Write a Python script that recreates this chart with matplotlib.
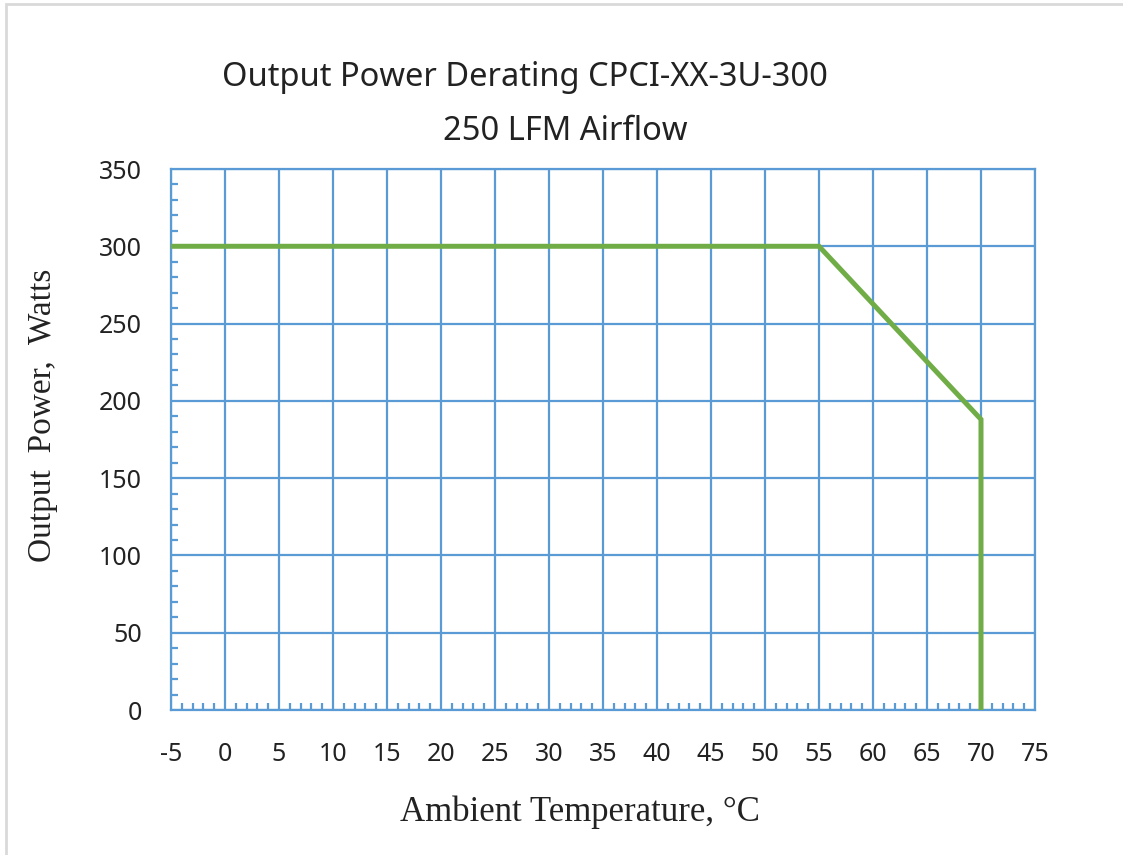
import matplotlib
matplotlib.use('Agg')
import matplotlib.pyplot as plt
from matplotlib.ticker import MultipleLocator
from matplotlib.patches import Rectangle

# derating curve, 250 LFM airflow
temp_c = [-5, 55, 70, 70]
power_w = [300, 300, 188, 0]
x_ticks = list(range(-5, 80, 5))
y_ticks = list(range(0, 400, 50))

BLUE = '#5B9BD5'
GREEN = '#70AD47'
INK = '#222222'

fig = plt.figure(figsize=(11.23, 8.55), dpi=100)
ax = fig.add_axes([171/1123, 1-710/855, (1035-171)/1123, (710-169)/855])

ax.plot(temp_c, power_w, color=GREEN, lw=3.6, solid_capstyle='butt', solid_joinstyle='miter', zorder=3)

ax.set_xlim(-5, 75); ax.set_ylim(0, 350)
ax.set_xticks(x_ticks); ax.set_yticks(y_ticks)
ax.set_xticklabels([str(v) for v in x_ticks])  # plain hyphen for -5
ax.xaxis.set_minor_locator(MultipleLocator(1))
ax.yaxis.set_minor_locator(MultipleLocator(10))
ax.grid(True, which='major', color=BLUE, lw=1.6)
for s in ax.spines.values():
    s.set_color(BLUE); s.set_linewidth(1.6)
ax.tick_params(which='major', length=0, labelsize=18, colors=INK)
ax.tick_params(axis='x', which='major', pad=23)
ax.tick_params(axis='y', which='major', pad=21)
ax.tick_params(which='minor', direction='in', length=5, width=1.6, color=BLUE)
ax.tick_params(axis='x', which='minor', top=False)
ax.tick_params(axis='y', which='minor', right=False)
for lab in ax.get_xticklabels() + ax.get_yticklabels():
    lab.set_fontfamily('Noto Sans')

fig.text(580/1123, 1-812/855, 'Ambient Temperature, °C', family='Liberation Serif', fontsize=25,
         ha='center', va='center', color=INK)
fig.text(43/1123, 1-415/855, 'Output  Power,  Watts', family='Liberation Serif', fontsize=24,
         ha='center', va='center', rotation=90, color=INK)

fig.text(525/1123, 1-77/855, 'Output Power Derating CPCI-XX-3U-300', family='Noto Sans', fontsize=23.5,
         ha='center', va='center', color=INK)
fig.text(565/1123, 1-131/855, '250 LFM Airflow', family='Noto Sans', fontsize=23.5,
         ha='center', va='center', color=INK)

# light frame around the chart area
fig.patches.append(Rectangle((6/1123, -0.01), 1.1, 1-4/855+0.01, transform=fig.transFigure,
                             fill=False, edgecolor='#d9d9d9', lw=2))

fig.savefig('out.png', dpi=100)
